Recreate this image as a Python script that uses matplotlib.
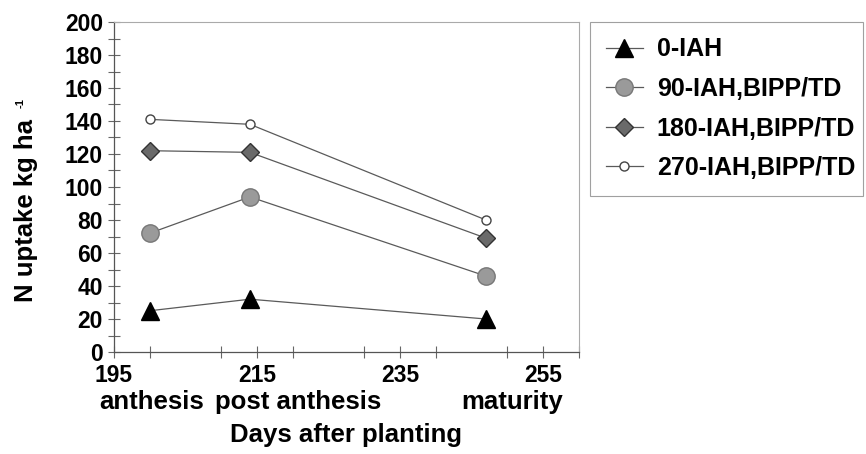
import numpy as np
import matplotlib.pyplot as plt
from matplotlib.ticker import MultipleLocator

plt.rcParams['font.family'] = ['Liberation Sans', 'DejaVu Sans']
plt.rcParams['font.weight'] = 'bold'

#------------------------------------------------------------------------------------
# N uptake at three growth stages
#------------------------------------------------------------------------------------
days = [200, 214, 247]
stage_names = ["anthesis", "post anthesis", "maturity"]
stage_pos = [200.3, 220.7, 250.7]

uptake_0 = [25, 32, 20]
uptake_90 = [72, 94, 46]
uptake_180 = [122, 121, 69]
uptake_270 = [141, 138, 80]

labels = ["0-IAH", "90-IAH,BIPP/TD", "180-IAH,BIPP/TD", "270-IAH,BIPP/TD"]

#------------------------------------------------------------------------------------
# Figure
#------------------------------------------------------------------------------------
W, H = 866, 454
fig = plt.figure(figsize=(W / 100, H / 100), dpi=100)
ax = fig.add_axes([114 / W, 1 - 352 / H, 465 / W, 330 / H])

line_col = '#5a5a5a'
ax.plot(days, uptake_0, color=line_col, lw=0.9, marker='^', ms=13,
        mfc='black', mec='black', label=labels[0])
ax.plot(days, uptake_90, color=line_col, lw=0.9, marker='o', ms=12.5,
        mfc='#9a9a9a', mec='#777777', label=labels[1])
ax.plot(days, uptake_180, color=line_col, lw=0.9, marker='D', ms=9.2,
        mfc='#6a6a6a', mec='#333333', label=labels[2])
ax.plot(days, uptake_270, color=line_col, lw=0.9, marker='o', ms=6.5,
        mfc='white', mec='#444444', mew=1.0, label=labels[3])

ax.set_xlim(195, 260)
ax.set_ylim(0, 200)
ax.set_xticks([195, 215, 235, 255])
ax.xaxis.set_minor_locator(MultipleLocator(10))
ax.yaxis.set_major_locator(MultipleLocator(20))
ax.yaxis.set_minor_locator(MultipleLocator(10))

ax.tick_params(which='both', direction='inout', color='#666666', width=0.8,
               length=9, labelsize=16.5)
ax.tick_params(axis='y', pad=3.5)
ax.tick_params(axis='x', pad=4.5)

for side in ['left', 'bottom']:
    ax.spines[side].set_color('#555555')
    ax.spines[side].set_linewidth(0.9)
for side in ['top', 'right']:
    ax.spines[side].set_color('#aaaaaa')
    ax.spines[side].set_linewidth(0.8)

# stage names under the day numbers
for name, x in zip(stage_names, stage_pos):
    ax.text(x, -0.173, name, ha='center', va='baseline', fontsize=18.5,
            fontweight='bold', transform=ax.get_xaxis_transform(), clip_on=False)

ax.set_xlabel('Days after planting', fontsize=18.5, fontweight='bold', va='baseline')
ax.xaxis.set_label_coords(0.5, -0.273)

fig.text(26 / W, 1 - 210 / H, 'N uptake kg ha', rotation=90, ha='center', va='center',
         fontsize=18.5, fontweight='bold')
fig.text(21 / W, 1 - 103 / H, '-1', rotation=90, ha='center', va='center',
         fontsize=8, fontweight='bold')

leg = fig.legend(loc='upper left', bbox_to_anchor=(590 / W, 1 - 22 / H, 273 / W, 0),
                 mode='expand', fontsize=18, frameon=True, fancybox=False,
                 edgecolor='#888888', labelspacing=0.62, handlelength=1.5,
                 borderpad=0.62, handletextpad=0.55, borderaxespad=0)
leg.get_frame().set_linewidth(0.8)

plt.savefig('out.png', dpi=100)
